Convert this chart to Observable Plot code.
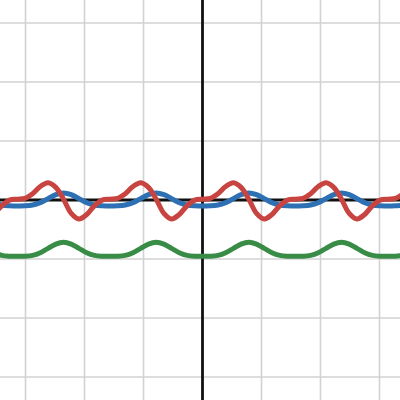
<!DOCTYPE html>
<html>
<head>
<meta charset="utf-8">
<script src="https://cdn.jsdelivr.net/npm/d3@7"></script>
<script src="https://cdn.jsdelivr.net/npm/@observablehq/plot@0.6"></script>
<style>
  html, body { margin: 0; padding: 0; background: #fff; }
  #chart svg { display: block; }
</style>
</head>
<body>
<div id="chart"></div>
<script>
// Grid tick positions (graph units)
const gridX = [-3, -2, -1, 1, 2, 3];
const gridY = [-3, -2, -1, 1, 2, 3];

// Sample positions along x (graph units)
const xs = [-3.534,-3.403,-3.272,-3.142,-3.011,-2.880,-2.749,-2.618,-2.487,-2.356,-2.225,-2.094,-1.963,-1.833,-1.702,-1.571,-1.440,-1.309,-1.178,-1.047,-0.916,-0.785,-0.654,-0.524,-0.393,-0.262,-0.131,0,0.131,0.262,0.393,0.524,0.654,0.785,0.916,1.047,1.178,1.309,1.440,1.571,1.702,1.833,1.963,2.094,2.225,2.356,2.487,2.618,2.749,2.880,3.011,3.142,3.272,3.403];

// Series values
const green = [-0.894,-0.938,-0.952,
  -0.953,-0.952,-0.938,-0.894,-0.820,-0.747,-0.716,-0.747,-0.820,-0.894,-0.938,-0.952,
  -0.953,-0.952,-0.938,-0.894,-0.820,-0.747,-0.716,-0.747,-0.820,-0.894,-0.938,-0.952,
  -0.953,-0.952,-0.938,-0.894,-0.820,-0.747,-0.716,-0.747,-0.820,-0.894,-0.938,-0.952,
  -0.953,-0.952,-0.938,-0.894,-0.820,-0.747,-0.716,-0.747,-0.820,-0.894,-0.938,-0.952,
  -0.953,-0.952,-0.938];
const blue = [-0.045,-0.086,-0.099,
  -0.100,-0.099,-0.086,-0.045,0.023,0.091,0.119,0.091,0.023,-0.045,-0.086,-0.099,
  -0.100,-0.099,-0.086,-0.045,0.023,0.091,0.119,0.091,0.023,-0.045,-0.086,-0.099,
  -0.100,-0.099,-0.086,-0.045,0.023,0.091,0.119,0.091,0.023,-0.045,-0.086,-0.099,
  -0.100,-0.099,-0.086,-0.045,0.023,0.091,0.119,0.091,0.023,-0.045,-0.086,-0.099,
  -0.100,-0.099,-0.086];
const red = [-0.245,-0.098,-0.003,
  0.014,0.028,0.107,0.229,0.293,0.214,0.014,-0.227,-0.322,-0.245,-0.098,-0.003,
  0.014,0.028,0.107,0.229,0.293,0.214,0.014,-0.227,-0.322,-0.245,-0.098,-0.003,
  0.014,0.028,0.107,0.229,0.293,0.214,0.014,-0.227,-0.322,-0.245,-0.098,-0.003,
  0.014,0.028,0.107,0.229,0.293,0.214,0.014,-0.227,-0.322,-0.245,-0.098,-0.003,
  0.014,0.028,0.107];

const seriesNames = ["series A", "series B", "series C"];
const seriesColors = ["#2d70b3", "#388c46", "#c74440"];
const seriesValues = [blue, green, red];

const lineMarks = seriesNames.map((name, i) => {
  const rows = xs.map((x, j) => ({series: name, x, y: seriesValues[i][j]}));
  return Plot.line(rows, {
    x: "x", y: "y",
    stroke: seriesColors[i],
    strokeWidth: 5,
    curve: "catmull-rom",
    strokeLinecap: "round",
    strokeLinejoin: "round"
  });
});

const chart = Plot.plot({
  width: 400,
  height: 400,
  margin: 0,
  style: {background: "#fff"},
  x: {domain: [-3.424, 3.356], axis: null},
  y: {domain: [-3.398, 3.381], axis: null},
  marks: [
    Plot.ruleX(gridX, {stroke: "#d2d2d2", strokeWidth: 1.6}),
    Plot.ruleY(gridY, {stroke: "#d2d2d2", strokeWidth: 1.6}),
    Plot.ruleX([0], {stroke: "#111", strokeWidth: 2.8}),
    Plot.ruleY([0], {stroke: "#111", strokeWidth: 2.8}),
    ...lineMarks
  ]
});
document.getElementById("chart").appendChild(chart);
</script>
</body>
</html>
